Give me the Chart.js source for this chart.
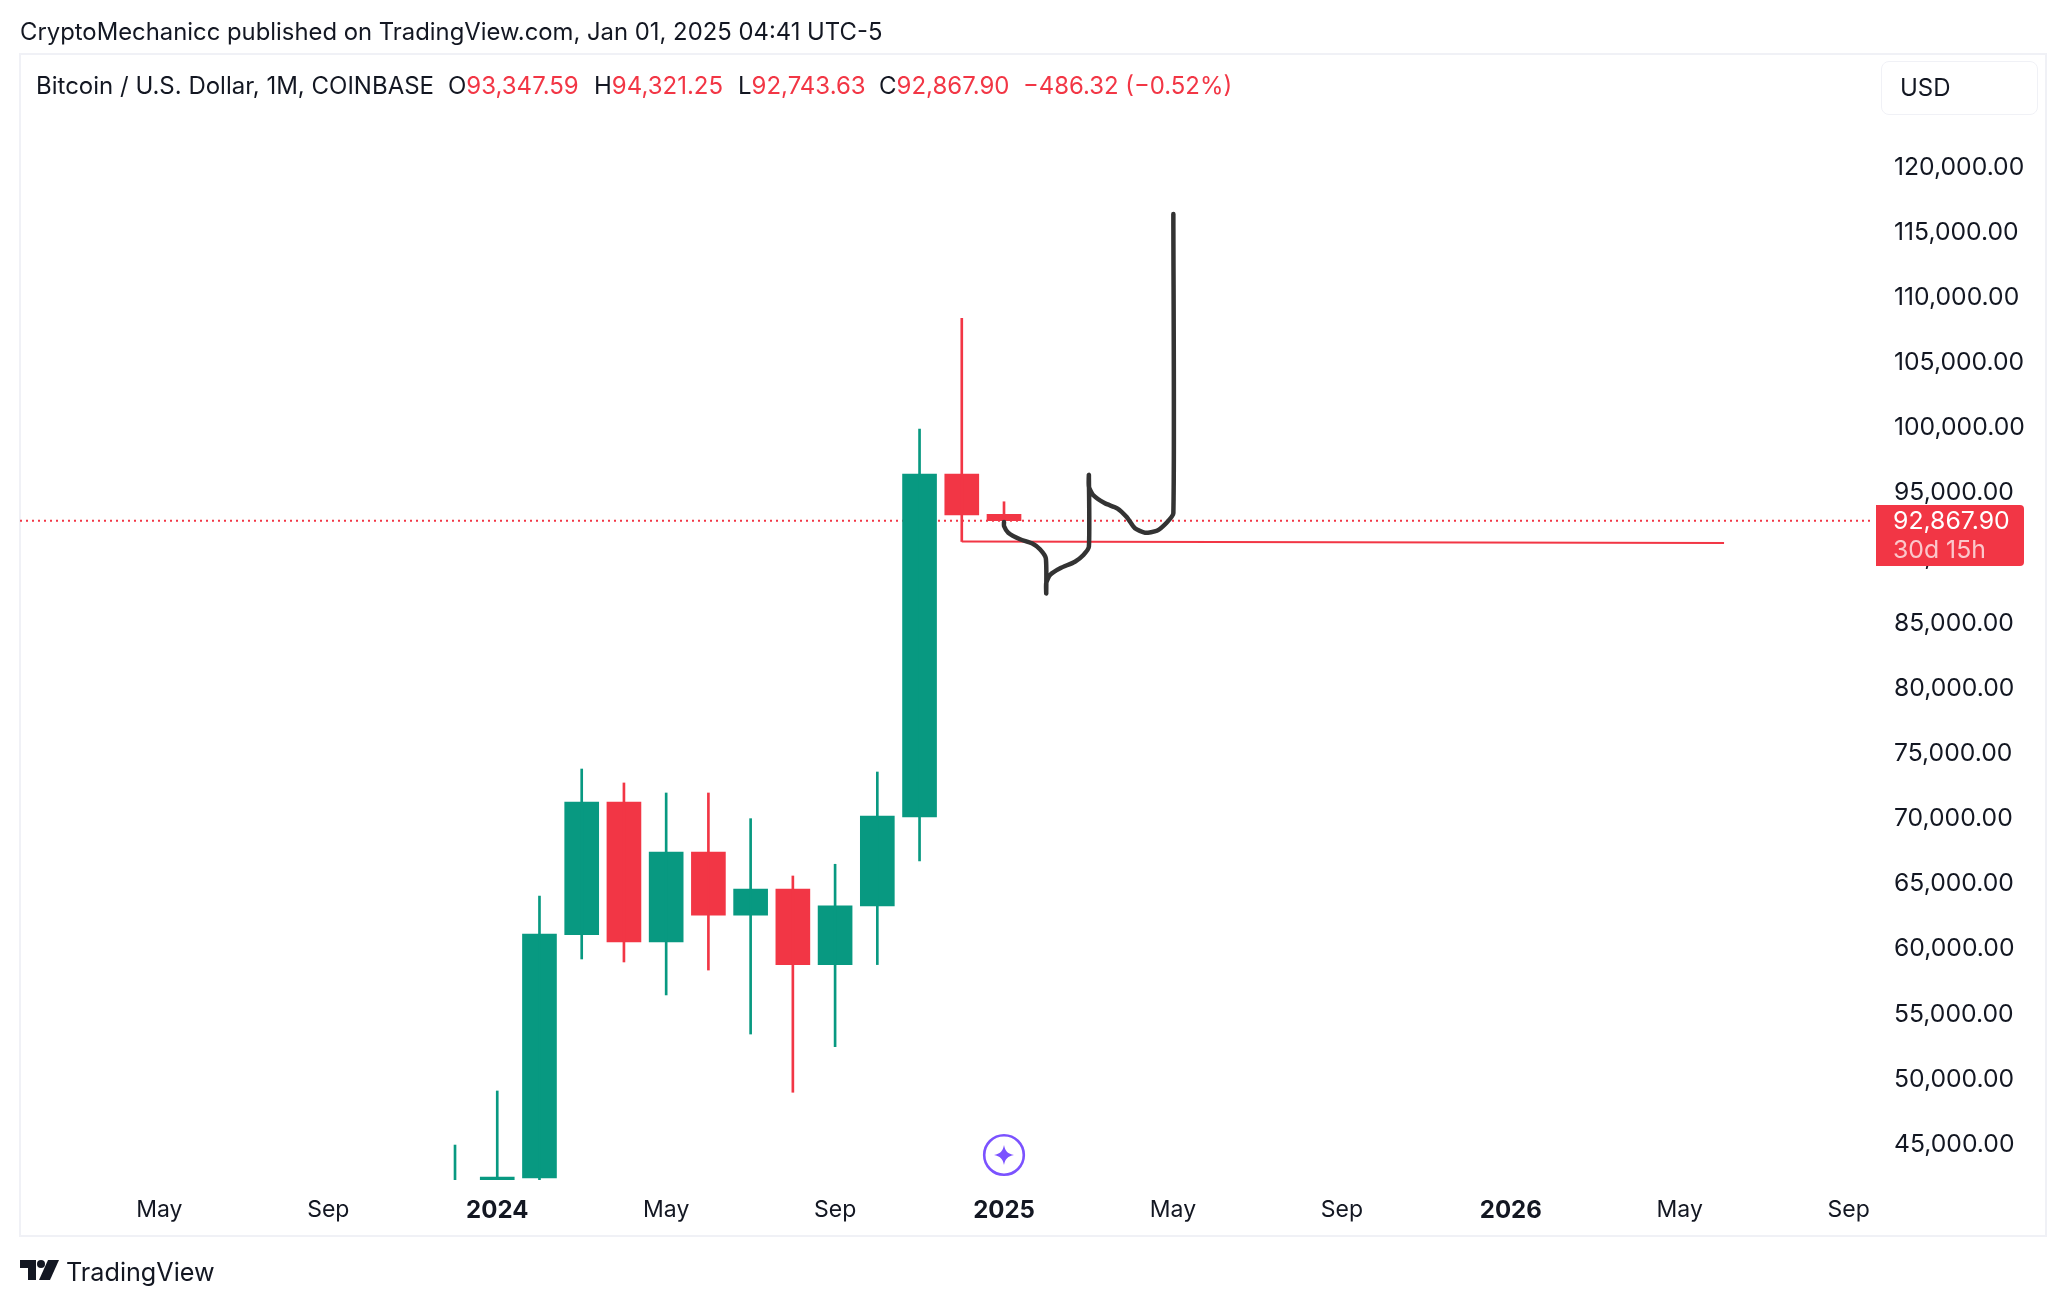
<!DOCTYPE html>
<html><head><meta charset="utf-8">
<script src="https://cdn.jsdelivr.net/npm/chart.js@4"></script>
<style>
html,body{margin:0;padding:0;background:#fff;width:2066px;height:1306px;overflow:hidden;font-family:Inter,sans-serif;color:#131722}
#wrap{position:absolute;left:0;top:0;width:2066px;height:1306px}
#frame{position:absolute;left:19px;top:53px;width:2028px;height:1184px;border:2px solid #f0f1f6;box-sizing:border-box}
.t{position:absolute;white-space:pre}
.r{color:#f23645}
#tag{position:absolute;left:1876px;top:505px;width:148px;height:61px;background:#f23645;border-radius:0 4px 4px 0;color:#fff;font-size:24.8px;line-height:29px}
#usd{position:absolute;left:1881px;top:61px;width:155px;height:52px;border:1.5px solid #f0f1f6;border-radius:8px;font-size:24px;line-height:52px;text-indent:18px;box-sizing:content-box}
</style></head><body>
<div id="wrap">
<div id="frame"></div>
<canvas id="c" width="2066" height="1306" style="position:absolute;left:0;top:0;width:2066px;height:1306px"></canvas>
<div class="t" style="left:20px;top:17px;font-size:23.85px">CryptoMechanicc published on TradingView.com, Jan 01, 2025 04:41 UTC-5</div>
<div class="t" style="left:36px;top:71px;font-size:24px">Bitcoin / U.S. Dollar, 1M, COINBASE</div>
<div class="t" style="left:448px;top:71px;font-size:24px">O<span class="r">93,347.59</span></div>
<div class="t" style="left:594px;top:71px;font-size:24px">H<span class="r">94,321.25</span></div>
<div class="t" style="left:738px;top:71px;font-size:24px">L<span class="r">92,743.63</span></div>
<div class="t" style="left:879px;top:71px;font-size:24px">C<span class="r">92,867.90</span></div>
<div class="t r" style="left:1023px;top:71px;font-size:23.9px">−486.32 (−0.52%)</div>
<div id="usd">USD</div>
<div id="tag"><div style="margin-left:17px;margin-top:1px">92,867.90</div><div style="margin-left:17px;opacity:.72">30d 15h</div></div>
<svg class="t" style="left:982px;top:1133px" width="44" height="44" viewBox="0 0 44 44"><circle cx="22" cy="22" r="19.8" fill="#fff" stroke="#7b52ff" stroke-width="2.6"/><path d="M22 12 C23 18 26 21 32 22 C26 23 23 26 22 32 C21 26 18 23 12 22 C18 21 21 18 22 12Z" fill="#7b52ff"/></svg>
<svg class="t" style="left:20px;top:1260px" width="40" height="21" viewBox="0 0 40 21"><path d="M0 0H16V20H8V8H0Z" fill="#131722"/><circle cx="21" cy="4" r="4" fill="#131722"/><path d="M28 0H39L30 20H19Z" fill="#131722"/></svg>
<div class="t" style="left:66px;top:1257px;font-size:25.2px">TradingView</div>
</div>
<script>
// Months are counted from Jan 2023 = 0
const months = [11, 12, 13, 14, 15, 16, 17, 18, 19, 20, 21, 22, 23, 24];
const monthNames = ["Dec 2023","Jan 2024","Feb 2024","Mar 2024","Apr 2024","May 2024","Jun 2024","Jul 2024","Aug 2024","Sep 2024","Oct 2024","Nov 2024","Dec 2024","Jan 2025"];
const opens  = [37700, 42000, 42420, 61100, 71280, 60530, 67440, 62600, 64600, 58800, 63300, 70130, 96450, 93347.59];
const closes = [42000, 42500, 61150, 71280, 60530, 67440, 62600, 64600, 58800, 63300, 70200, 96450, 93310, 92867.90];
const highs  = [44950, 49100, 64060, 73810, 72740, 71970, 71970, 70000, 65600, 66500, 73580, 99900, 108400, 94321.25];
const lows   = [37500, 38500, 41900, 59230, 59000, 56470, 58380, 53470, 49000, 52500, 58800, 66750, 91270, 92743.63];
const tickMonths = [4, 8, 12, 16, 20, 24, 28, 32, 36, 40, 44];
const tickLabels = ["May","Sep","2024","May","Sep","2025","May","Sep","2026","May","Sep"];
const priceTicks = [45000,50000,55000,60000,65000,70000,75000,80000,85000,90000,95000,100000,105000,110000,115000,120000];
const lastPrice = 92867.90;
const supportX = [23, 41.05];
const supportY = [91270, 91150];
const sketchX = [24, 24, 24.10, 24.38, 24.66, 24.85, 24.99, 25, 25, 25.09, 25.33, 25.68, 25.88, 26.01, 26.01, 26.01, 26.11, 26.39, 26.68, 26.91, 27.10, 27.34, 27.62, 27.85, 28.01, 28.01];
const sketchY = [92768, 92461, 91947, 91440, 91133, 90673, 89982, 87296, 88086, 88700, 89215, 89721, 90235, 90873, 96375, 95478, 94840, 94203, 93820, 93129, 92285, 91947, 92100, 92714, 93436, 116407];
const xMin = 0.699, xMax = 44.53, yMin = 42267, yMax = 128533;
const up = '#089981', down = '#f23645';
const colors = opens.map((o,i)=> closes[i]>=o ? up : down);

new Chart(document.getElementById('c'),{
  type:'bar',
  data:{datasets:[
    {type:'line',label:'last',data:[{x:xMin,y:lastPrice},{x:xMax,y:lastPrice}],borderColor:down,borderWidth:2,borderDash:[2,4],pointRadius:0,order:3},
    {label:'wick',data:months.map((m,i)=>({x:m,y:[lows[i],highs[i]]})),backgroundColor:colors,barThickness:2,grouped:false,order:2},
    {label:'body',data:months.map((m,i)=>({x:m,y:[opens[i],closes[i]]})),backgroundColor:colors,barThickness:34,grouped:false,order:2},
    {type:'line',label:'support',data:supportX.map((x,i)=>({x,y:supportY[i]})),borderColor:down,borderWidth:2,pointRadius:0,order:1},
    {type:'line',label:'sketch',data:sketchX.map((x,i)=>({x,y:sketchY[i]})),borderColor:'#333333',borderWidth:4.5,pointRadius:0,tension:0.2,borderCapStyle:'round',borderJoinStyle:'round',order:0}
  ]},
  options:{
    responsive:false,animation:false,devicePixelRatio:1,
    layout:{padding:{left:20,top:56,right:22,bottom:58}},
    plugins:{legend:{display:false},tooltip:{enabled:false}},
    scales:{
      x:{type:'linear',min:xMin,max:xMax,offset:false,
        grid:{display:false},border:{display:false},
        afterBuildTicks(a){a.ticks=tickMonths.map(v=>({value:v}));},
        afterFit(a){a.height=68;},
        ticks:{autoSkip:false,maxRotation:0,padding:8.5,color:'#131722',
          callback(v){return tickLabels[tickMonths.indexOf(v)];},
          font(ctx){const bold=/^\d+$/.test(ctx.tick&&ctx.tick.label||'');return {family:'Inter',size:bold?24:23,weight:bold?'700':'400'};}}},
      y:{type:'linear',position:'right',min:yMin,max:yMax,
        grid:{display:false},border:{display:false},
        afterBuildTicks(a){a.ticks=priceTicks.map(v=>({value:v}));},
        afterFit(a){a.width=173;},
        ticks:{autoSkip:false,crossAlign:'near',padding:15,color:'#131722',font:{family:'Inter',size:24.7},
          callback(v){return v.toLocaleString('en-US',{minimumFractionDigits:2,maximumFractionDigits:2});}}}
    }
  }
});
</script>
</body></html>
